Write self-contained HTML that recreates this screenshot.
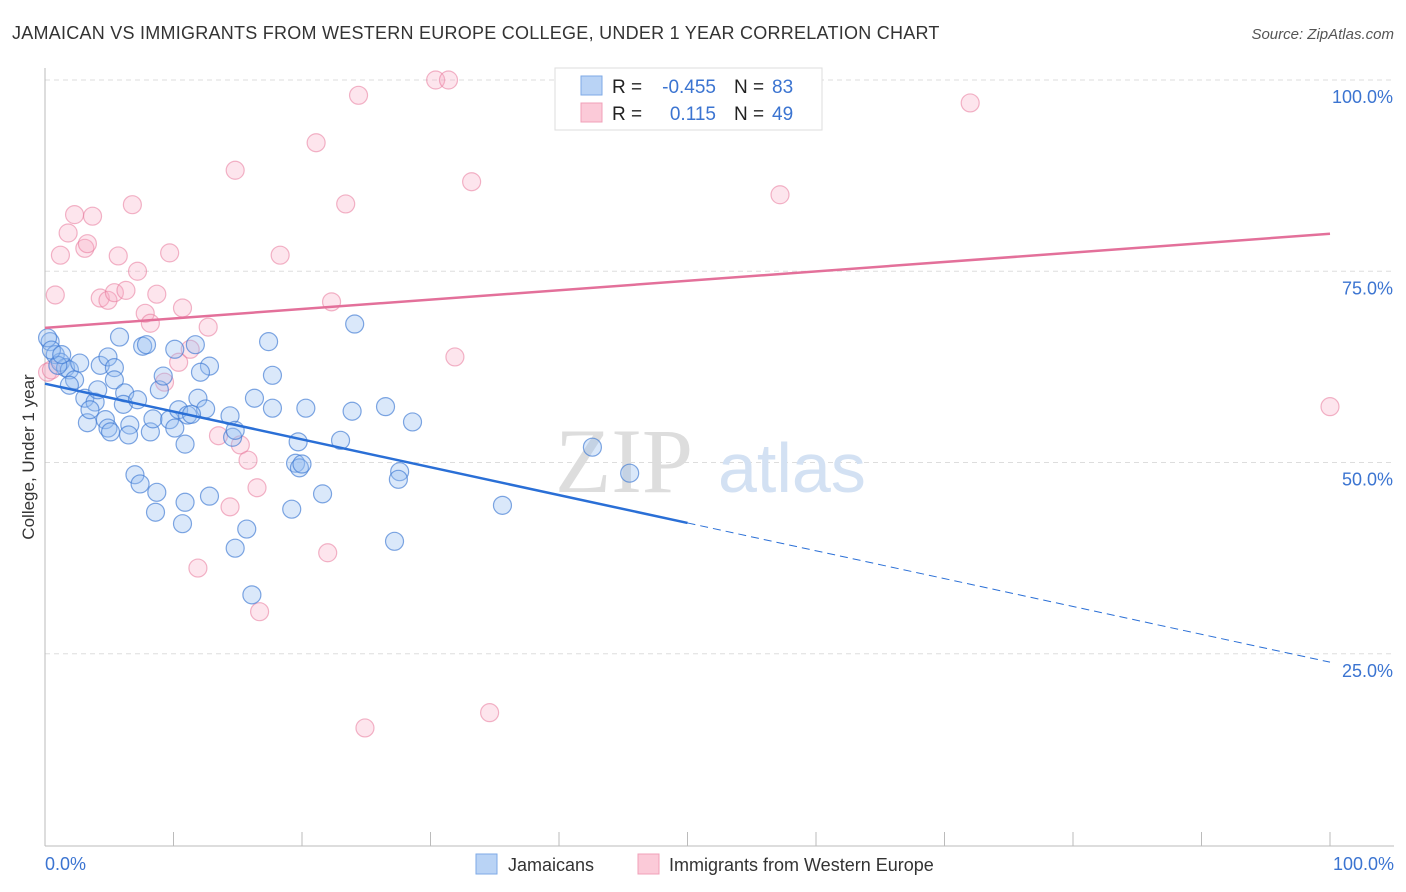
<!DOCTYPE html>
<html><head><meta charset="utf-8"><style>
body{margin:0;background:#fff;font-family:"Liberation Sans",sans-serif;}
svg{display:block}
</style></head><body>
<svg id="chart" width="1406" height="892" xmlns="http://www.w3.org/2000/svg">
<text x="12" y="39" font-size="18" fill="#333" letter-spacing="0.25">JAMAICAN VS IMMIGRANTS FROM WESTERN EUROPE COLLEGE, UNDER 1 YEAR CORRELATION CHART</text>
<text x="1394" y="39" font-size="15" fill="#555" text-anchor="end" font-style="italic">Source: ZipAtlas.com</text>
<g id="grid"></g>
<g><text x="555" y="492" font-size="92" fill="#ddd" font-family="Liberation Serif,serif">ZIP</text><text x="718" y="492" font-size="70" fill="#d3e1f3">atlas</text></g>
<line x1="45" y1="68" x2="45" y2="846" stroke="#bbb"/>
<line x1="45" y1="846" x2="1394" y2="846" stroke="#bbb"/>
<g id="ticks"></g>
<g id="ylabels"></g>
<text x="45" y="870" font-size="18" fill="#3b74d1">0.0%</text>
<text x="1394" y="870" font-size="18" fill="#3b74d1" text-anchor="end">100.0%</text>
<text transform="translate(34,457) rotate(-90)" font-size="17" fill="#333" text-anchor="middle">College, Under 1 year</text>
<g id="pink"></g>
<g id="blue"></g>
<g id="trends"></g>
<g>
<rect x="555" y="68" width="267" height="62" fill="#fff" stroke="#ddd"/>
<rect x="581" y="76" width="21" height="19" fill="#b9d3f5" stroke="#7ea9e6"/>
<rect x="581" y="103" width="21" height="19" fill="#fbcad8" stroke="#f0a0b8"/>
<text x="612" y="93" font-size="19" fill="#222">R =</text>
<text x="716" y="93" font-size="19" fill="#3b74d1" text-anchor="end">-0.455</text>
<text x="734" y="93" font-size="19" fill="#222">N =</text>
<text x="772" y="93" font-size="19" fill="#3b74d1">83</text>
<text x="612" y="120" font-size="19" fill="#222">R =</text>
<text x="716" y="120" font-size="19" fill="#3b74d1" text-anchor="end">0.115</text>
<text x="734" y="120" font-size="19" fill="#222">N =</text>
<text x="772" y="120" font-size="19" fill="#3b74d1">49</text>
</g>
<g>
<rect x="476" y="854" width="21" height="20" fill="#b9d3f5" stroke="#7ea9e6"/>
<text x="508" y="871" font-size="18" fill="#333">Jamaicans</text>
<rect x="638" y="854" width="21" height="20" fill="#fbcad8" stroke="#f0a0b8"/>
<text x="669" y="871" font-size="18" fill="#333">Immigrants from Western Europe</text>
</g>
</svg>
<script>
const blueX=[0.4,0.8,1.2,1.6,1.9,1.0,2.3,3.1,3.9,3.3,4.3,4.9,5.4,5.8,5.4,6.2,6.1,4.7,4.9,6.6,6.5,7.2,7.6,7.9,8.2,8.4,8.9,9.2,9.7,10.1,10.4,10.9,11.1,11.7,11.9,12.5,12.8,10.1,11.4,14.4,14.6,14.8,16.3,17.4,17.7,17.7,19.7,20.3,19.5,19.8,20.0,23.0,23.9,24.1,26.5,28.6,27.6,27.5,27.2,7.0,7.4,8.7,8.6,10.7,10.9,12.8,14.8,15.7,16.1,19.2,21.6,35.6,42.6,45.5,0.2,0.5,1.3,2.7,1.9,4.1,5.1,12.1,3.5];
const blueY=[65.8,64.1,63.1,62.4,62.1,62.7,60.8,58.4,57.9,55.2,62.7,63.8,62.4,66.4,60.8,59.1,57.6,55.6,54.5,54.9,53.6,58.2,65.2,65.4,54.0,55.7,59.5,61.3,55.6,64.8,56.9,52.4,56.2,65.4,58.4,57.0,62.6,54.5,56.3,56.1,53.3,54.2,58.4,65.8,61.4,57.1,52.7,57.1,49.9,49.3,49.8,52.9,56.7,68.1,57.3,55.3,48.8,47.8,39.7,48.4,47.2,46.1,43.5,42.0,44.8,45.6,38.8,41.3,32.7,43.9,45.9,44.4,52.0,48.6,66.3,64.7,64.1,63.0,60.1,59.5,54.0,61.8,56.9];
const pinkX=[0.8,0.2,1.2,1.8,2.3,3.1,3.3,3.7,4.3,4.9,5.4,5.7,6.3,6.8,7.2,7.8,8.2,8.7,9.7,10.4,10.7,11.3,9.3,12.7,11.9,13.5,14.4,14.8,15.2,15.8,16.5,16.7,18.3,21.1,22.3,22.0,23.4,24.4,24.9,30.4,31.4,31.9,33.2,34.6,47.9,57.2,72.0,100,0.5];
const pinkY=[71.9,61.8,77.1,80.0,82.4,78.0,78.6,82.2,71.5,71.2,72.2,77.0,72.5,83.7,75.0,69.5,68.2,72.0,77.4,63.1,70.2,64.8,60.5,67.7,36.2,53.5,44.2,88.2,52.3,50.3,46.7,30.5,77.1,91.8,71.0,38.2,83.8,98.0,15.3,100,100,63.8,86.7,17.3,100,85.0,97.0,57.3,62.1];
const pinkTrend=[67.6,79.9];
const blueTrend=[60.3,23.9];
const blueSolidEnd=50;
const yTicks=[100,75,50,25];
const yTickLabels=["100.0%","75.0%","50.0%","25.0%"];
const xTicks=[0,10,20,30,40,50,60,70,80,90,100];
const NS="http://www.w3.org/2000/svg";
const sx=v=>45+v*12.85, sy=v=>845-v*7.65;
function mk(t,a,p){const e=document.createElementNS(NS,t);for(const k in a)e.setAttribute(k,a[k]);document.getElementById(p).appendChild(e);return e;}
yTicks.forEach((t,i)=>{
 const g=mk('line',{x1:45,x2:1394,y1:sy(t),y2:sy(t),stroke:'#ddd','stroke-dasharray':'5,4'},'grid');
 
 
 const l=mk('text',{x:1393,y:sy(t)+23,'font-size':18,fill:'#3b74d1','text-anchor':'end'},'ylabels');
 l.textContent=yTickLabels[i];
 
 
});
xTicks.forEach(t=>{
 const k=mk('line',{x1:sx(t),x2:sx(t),y1:832,y2:846,stroke:'#bbb'},'ticks');
 
 
});
pinkX.forEach((x,i)=>{
 const c=mk('circle',{cx:sx(x),cy:sy(pinkY[i]),r:9,fill:'rgba(248,170,195,0.3)',stroke:'rgba(232,120,155,0.55)','stroke-width':1.2},'pink');
 
 
});
blueX.forEach((x,i)=>{
 const c=mk('circle',{cx:sx(x),cy:sy(blueY[i]),r:9,fill:'rgba(150,190,240,0.35)',stroke:'rgba(60,120,210,0.65)','stroke-width':1.2},'blue');
 
 
});
const pt=mk('line',{x1:sx(0),y1:sy(pinkTrend[0]),x2:sx(100),y2:sy(pinkTrend[1]),stroke:'#e3709a','stroke-width':2.5},'trends');


const bm=blueTrend[0]+(blueTrend[1]-blueTrend[0])*blueSolidEnd/100;
const bt=mk('line',{x1:sx(0),y1:sy(blueTrend[0]),x2:sx(blueSolidEnd),y2:sy(bm),stroke:'#2a6fd6','stroke-width':2.5},'trends');


const bd=mk('line',{x1:sx(blueSolidEnd),y1:sy(bm),x2:sx(100),y2:sy(blueTrend[1]),stroke:'#2a6fd6','stroke-width':1,'stroke-dasharray':'8,5'},'trends');


</script>
</body></html>
